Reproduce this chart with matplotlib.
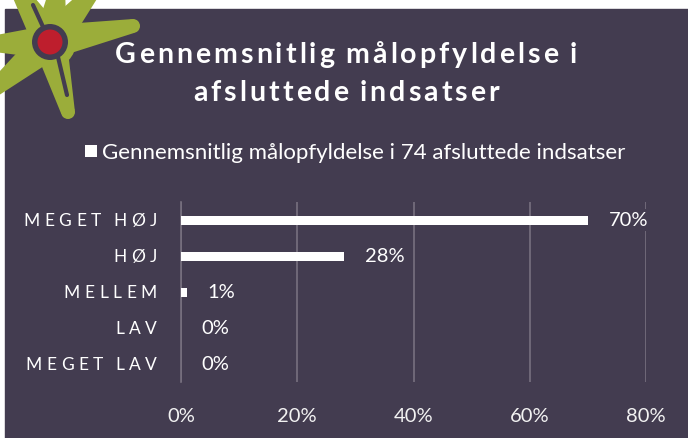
import numpy as np
import matplotlib
matplotlib.use("Agg")
import matplotlib.pyplot as plt
from matplotlib.patches import Rectangle, Circle, Polygon

# data
categories = ["MEGET HØJ", "HØJ", "MELLEM", "LAV", "MEGET LAV"]
values = [70, 28, 1, 0, 0]
xticks = [0, 20, 40, 60, 80]
title_lines = ["Gennemsnitlig målopfyldelse i", "afsluttede indsatser"]
series_name = "Gennemsnitlig målopfyldelse i 74 afsluttede indsatser"

BG = "#433c50"
GRID = "#77707f"
GREEN = "#9bad3a"
RED = "#be1e2d"
FONT = "Lato"

W, H = 688, 439
fig = plt.figure(figsize=(W / 100, H / 100), dpi=100)
fig.patch.set_facecolor("white")

# overlay in pixel coordinates (y down) for panel, logo and texts
ov = fig.add_axes([0, 0, 1, 1], zorder=0)
ov.set_xlim(0, W)
ov.set_ylim(H, 0)
ov.axis("off")
ov.add_patch(Rectangle((5, 10), W, H, color=BG, zorder=0))

renderer = fig.canvas.get_renderer()


def spaced(s, x, y, size, spacing, ha="left", weight="normal", color="white"):
    widths = []
    for ch in s:
        if ch == " ":
            widths.append(size * 0.26)
        else:
            t = ov.text(0, 0, ch, fontsize=size, weight=weight, family=FONT)
            widths.append(t.get_window_extent(renderer).width)
            t.remove()
    total = sum(widths) + spacing * (len(s) - 1)
    if ha == "right":
        pos = x - total
    elif ha == "center":
        pos = x - total / 2
    else:
        pos = x
    for ch, w in zip(s, widths):
        if ch != " ":
            ov.text(pos, y, ch, fontsize=size, weight=weight, family=FONT,
                    color=color, ha="left", va="center", zorder=5)
        pos += w + spacing


# logo: green star with red dot
cx, cy = 50, 43
tips = [(15, -14), (58, -14), (95, -10), (133, 27), (68, 113), (-12, 95), (-14, 45)]
for tx, ty in tips:
    d = np.array([tx - cx, ty - cy], float)
    n = np.array([-d[1], d[0]]) / np.hypot(*d)
    base, tip = 17, 7
    pts = [(cx + n[0] * base, cy + n[1] * base), (tx + n[0] * tip, ty + n[1] * tip),
           (tx - n[0] * tip, ty - n[1] * tip), (cx - n[0] * base, cy - n[1] * base)]
    ov.add_patch(Polygon(pts, closed=True, color=GREEN, lw=0, zorder=2))
    ov.add_patch(Circle((tx, ty), tip, color=GREEN, lw=0, zorder=2))
ov.add_patch(Circle((cx, cy), 26, color=GREEN, lw=0, zorder=2))
ov.plot([33, 44], [6, 30], color=BG, lw=3, zorder=3, solid_capstyle="round")
ov.plot([58, 67], [58, 96], color=BG, lw=3, zorder=3, solid_capstyle="round")
ov.add_patch(Circle((cx, cy), 18, color=BG, lw=0, zorder=3))
ov.add_patch(Circle((cx, cy), 12.5, color=RED, lw=0, zorder=4))

# title
spaced(title_lines[0], 346, 55, 20.5, 3.0, ha="center", weight="bold")
spaced(title_lines[1], 346, 93, 20.5, 3.0, ha="center", weight="bold")

# legend
ov.add_patch(Rectangle((85, 146), 12, 12, color="white", lw=0, zorder=5))
ov.text(102, 153, series_name, fontsize=16, family=FONT, color="white",
        ha="left", va="center", zorder=5)

# bar chart
ax = fig.add_axes([181 / W, 1 - 383 / H, (646 - 181) / W, 180 / H], zorder=1)
ax.set_facecolor("none")
y = np.arange(len(categories))
ax.barh(y, values, height=0.25, color="white", zorder=3)
ax.set_xlim(0, 80)
ax.set_ylim(len(categories) - 0.5, -0.5)
ax.set_xticks(xticks)
ax.set_xticklabels([f"{v}%" for v in xticks], fontsize=14.5, family=FONT, color="#f2f2f2")
ax.tick_params(axis="x", length=0, pad=18)
ax.set_yticks([])
ax.grid(axis="x", color=GRID, lw=1.2, zorder=0)
for s in ["top", "right", "bottom"]:
    ax.spines[s].set_visible(False)
ax.spines["left"].set_color(GRID)
ax.spines["left"].set_linewidth(1.2)

for yi, v in zip(y, values):
    ax.annotate(f"{v}%", (v, yi), xytext=(15, 0), textcoords="offset points",
                ha="left", va="center", fontsize=14.5, family=FONT, color="white",
                zorder=4, bbox=dict(boxstyle="square,pad=0.1", fc=BG, ec="none"))

# category labels with letter spacing
for yi, name in zip(y, categories):
    py = H - ax.transData.transform((0, yi))[1]
    spaced(name, 157, py, 12.5, 4.6, ha="right")

fig.savefig("out.png", dpi=100)
